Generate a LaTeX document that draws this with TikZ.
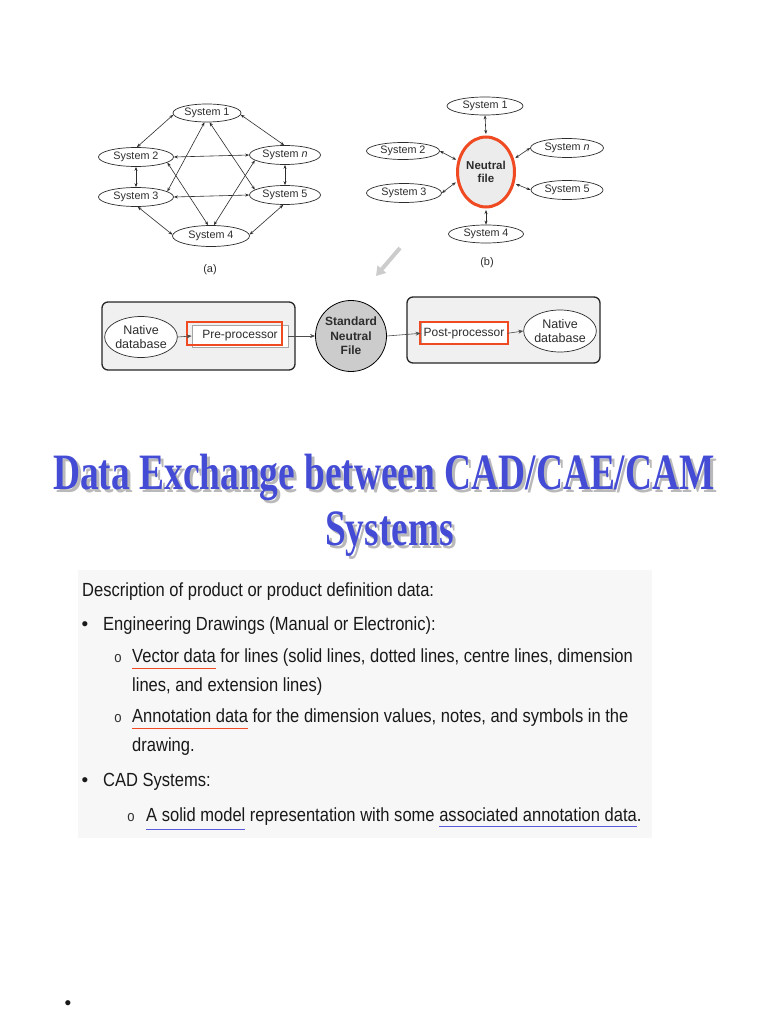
\documentclass[tikz,border=0pt]{standalone}
\usepackage{fontspec}
\setmainfont{Liberation Sans}
\newfontfamily\bodyfont[FakeStretch=0.87]{Liberation Sans}
\newfontfamily\titlefont[FakeStretch=0.733]{Liberation Serif}
\usetikzlibrary{arrows.meta,shapes.geometric}
\definecolor{scanink}{RGB}{45,45,45}
\definecolor{hl}{RGB}{240,74,34}
\definecolor{ttlblue}{RGB}{68,76,214}
\definecolor{ulblue}{RGB}{90,90,220}
\newcommand\ulc[3]{\setbox0\hbox{#3}\rlap{\color{#1}\rule[-#2]{\wd0}{1.4pt}}\box0\relax}
\newcommand\shadowed[1]{\rlap{\kern3pt\raisebox{-3pt}{\color{gray!55}#1}}{\color{ttlblue}#1}}
\begin{document}
\begin{tikzpicture}[x=1pt,y=-1pt,
  sys/.style={ellipse,draw=scanink,line width=0.7pt,inner sep=0pt,minimum height=19pt,
    font=\fontsize{10.8}{12}\selectfont,text=scanink},
  dbl/.style={{Stealth[length=4pt,width=3pt]}-{Stealth[length=4pt,width=3pt]},draw=scanink,line width=0.6pt},
  lbl/.style={font=\fontsize{11}{12}\selectfont,text=scanink},
  boxed/.style={draw=black!85,line width=1.3pt,rounded corners=6pt,fill=gray!12},
  dbase/.style={ellipse,draw=scanink,fill=white,line width=0.7pt,inner sep=0pt,align=center,
    font=\fontsize{12.5}{13.5}\selectfont,text=scanink},
  proc/.style={draw=gray!70,fill=white,line width=0.8pt,inner sep=0pt,font=\fontsize{12}{13}\selectfont,text=scanink},
  hlbox/.style={draw=hl,line width=1.5pt,inner sep=0pt},
  flowarr/.style={draw=gray!60!black,line width=0.6pt,-{Stealth[length=5pt,width=4pt]}},
  body/.style={anchor=base west,inner sep=0pt,font=\bodyfont\fontsize{19}{29}\selectfont,text=black!90},
  bul/.style={anchor=base,inner sep=0pt,font=\fontsize{19}{20}\selectfont,text=black!90},
  obul/.style={anchor=base,inner sep=0pt,font=\bodyfont\fontsize{15}{16}\selectfont,text=black!80},
  ttl/.style={anchor=base,inner sep=0pt,font=\titlefont\bfseries\fontsize{51}{55}\selectfont}]
\fill[white] (0,0) rectangle (768,1024);
\useasboundingbox (0,0) rectangle (768,1024);
% faint scan background
\fill[black!3] (78,570) rectangle (652,838);

% ---------- (a) ----------
\node[sys,minimum width=68pt,minimum height=18pt] (a1) at (207,113) {System 1};
\node[sys,minimum width=75pt] (a2) at (136,157) {System 2};
\node[sys,minimum width=71pt] (an) at (285,155) {System \textit{n}};
\node[sys,minimum width=75pt] (a3) at (136,197) {System 3};
\node[sys,minimum width=71pt] (a5) at (285,195) {System 5};
\node[sys,minimum width=77pt,minimum height=21pt] (a4) at (211,236) {System 4};
\node[lbl] (alab) at (210,270) {(a)};
\draw[dbl] (a1.183) -- (a2.85);
\draw[dbl] (a1.-3) -- (an.95);
\draw[dbl] (a2.east) -- (an.west);
\draw[dbl] (a3.east) -- (a5.west);
\draw[dbl] (a2.south) -- (a3.north);
\draw[dbl] (an.south) -- (a5.north);
\draw[dbl] (a3.-80) -- (a4.178);
\draw[dbl] (a5.-100) -- (a4.2);
\draw[dbl] (a1.-105) -- (a3.10);
\draw[dbl] (a1.-75) -- (a5.170);
\draw[dbl] (a2.-10) -- (a4.105);
\draw[dbl] (an.190) -- (a4.75);

% ---------- (b) ----------
\node[sys,minimum width=76pt,minimum height=18pt] (b1) at (485,106) {System 1};
\node[sys,minimum width=73pt,minimum height=17pt] (b2) at (403,151) {System 2};
\node[sys,minimum width=75pt] (b3) at (404,193) {System 3};
\node[sys,minimum width=73pt] (bn) at (567,148) {System \textit{n}};
\node[sys,minimum width=72pt] (b5) at (567,190) {System 5};
\node[sys,minimum width=75pt,minimum height=18pt] (b4) at (486,234) {System 4};
\node[ellipse,draw=hl,line width=3pt,fill=gray!15,inner sep=0pt,minimum width=57pt,minimum height=70pt,
  font=\bfseries\fontsize{11.5}{13.5}\selectfont,align=center,text=scanink] (nf) at (486,172) {Neutral\\file};
\node[lbl] (blab) at (487,263) {(b)};
\draw[dbl,shorten >=1.5pt] (b1.south) -- (nf.north);
\draw[dbl,shorten >=1.5pt] (b4.north) -- (nf.south);
\draw[dbl,shorten >=1.5pt] (b2.east) -- (nf.158);
\draw[dbl,shorten >=1.5pt] (b3.east) -- (nf.198);
\draw[dbl,shorten >=1.5pt] (bn.west) -- (nf.25);
\draw[dbl,shorten >=1.5pt] (b5.west) -- (nf.-22);
\coordinate (g1) at (400,248);
\coordinate (g2) at (376,276);
\draw[gray!40,line width=4pt,-{Triangle[length=9pt,width=11pt]}] (g1) -- (g2);

% ---------- flow ----------
\node[boxed,minimum width=193pt,minimum height=68pt] (lb) at (198.5,336) {};
\node[boxed,minimum width=193pt,minimum height=66pt] (rb) at (503.5,330) {};
\node[dbase,minimum width=63pt,minimum height=41pt] (nd1) at (141,337) {Native\\database};
\node[proc,minimum width=96pt,minimum height=22pt] (pre) at (240,336) {Pre-processor};
\node[hlbox,minimum width=95pt,minimum height=23pt] (preh) at (234.5,333.5) {};
\node[circle,draw=black,fill=gray!40,line width=0.8pt,inner sep=0pt,minimum size=71pt,align=center,
  font=\bfseries\fontsize{12}{14.3}\selectfont,text=scanink] (snf) at (351,336) {Standard\\Neutral\\File};
\node[proc,minimum width=86pt,minimum height=23pt] (post) at (464,333.3) {Post-processor};
\node[hlbox,minimum width=88pt,minimum height=22.3pt] (posth) at (464,333) {};
\node[dbase,minimum width=70pt,minimum height=42pt] (nd2) at (560,331) {Native\\database};
\draw[flowarr] (nd1.east) -- (pre.west);
\draw[flowarr] (pre.east) -- (snf.west);
\draw[flowarr] (snf.east) -- (post.west);
\draw[flowarr] (post.east) -- (nd2.west);

% ---------- title ----------
\node[ttl] (t1) at (384,489) {\shadowed{Data Exchange between CAD/CAE/CAM}};
\node[ttl] (t2) at (389.5,545) {\shadowed{Systems}};

% ---------- body text ----------
\node[body] (l1) at (82,596) {Description of product or product definition data:};
\node[bul] (u1) at (85,630) {•};
\node[body] (l2) at (103,630) {Engineering Drawings (Manual or Electronic):};
\node[obul] (o1) at (118,662) {o};
\node[body] (l3) at (132,662) {\ulc{hl}{7pt}{Vector data} for lines (solid lines, dotted lines, centre lines, dimension};
\node[body] (l4) at (132,691) {lines, and extension lines)};
\node[obul] (o2) at (118,722) {o};
\node[body] (l5) at (132,722) {\ulc{hl}{7pt}{Annotation data} for the dimension values, notes, and symbols in the};
\node[body] (l6) at (132,751) {drawing.};
\node[bul] (u2) at (85,786) {•};
\node[body] (l7) at (103,786) {CAD Systems:};
\node[obul] (o3) at (131,821) {o};
\node[body] (l8) at (146,821) {\ulc{ulblue}{9pt}{A solid model} representation with some \ulc{ulblue}{6pt}{associated annotation data}.};

\node[bul] (u3) at (68,1009) {•};
\end{tikzpicture}
\end{document}
